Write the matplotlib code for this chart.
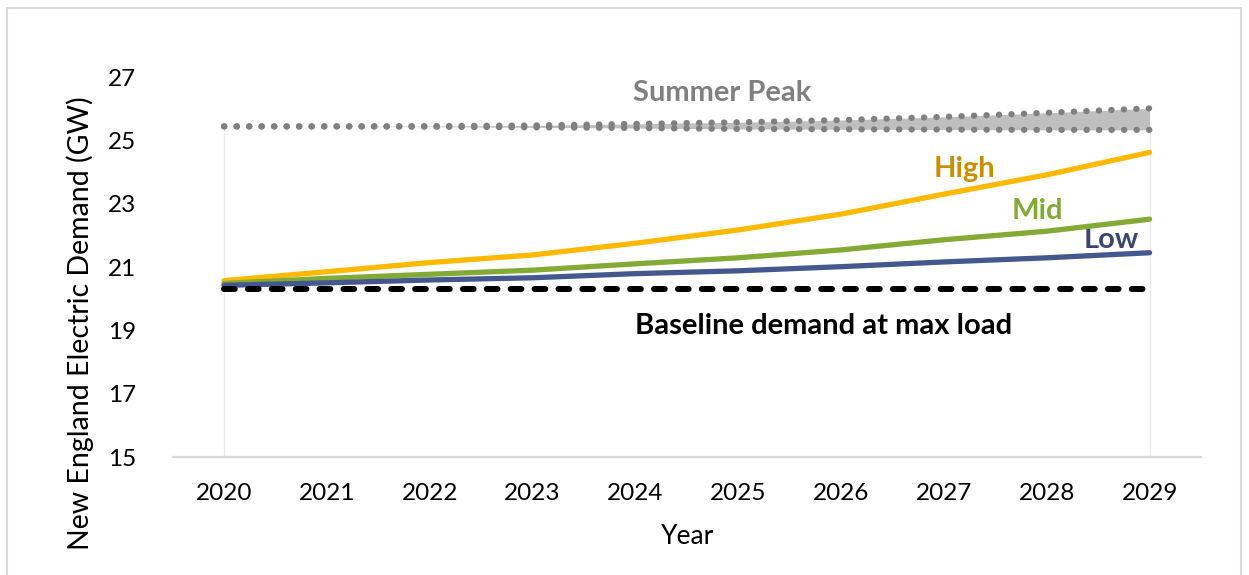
import matplotlib
matplotlib.use("Agg")
import matplotlib.pyplot as plt
from matplotlib.patches import Rectangle

years = [2020, 2021, 2022, 2023, 2024, 2025, 2026, 2027, 2028, 2029]
high = [20.57, 20.85, 21.14, 21.38, 21.75, 22.17, 22.67, 23.30, 23.91, 24.62]
mid = [20.48, 20.64, 20.77, 20.90, 21.10, 21.29, 21.54, 21.86, 22.13, 22.51]
low = [20.42, 20.50, 20.59, 20.66, 20.79, 20.88, 21.01, 21.16, 21.29, 21.45]
baseline = [20.30] * 10
summer_upper = [25.44, 25.44, 25.45, 25.47, 25.52, 25.57, 25.64, 25.74, 25.87, 26.01]
summer_lower = [25.44, 25.44, 25.43, 25.41, 25.39, 25.36, 25.35, 25.34, 25.33, 25.33]
y_ticks = [15, 17, 19, 21, 23, 25, 27]

plt.rcParams['font.family'] = ['Lato', 'DejaVu Sans']

W, H = 1249, 575
fig = plt.figure(figsize=(W / 100, H / 100), dpi=100)
ax = fig.add_axes([172.6 / W, (H - 457) / H, (1201 - 172.6) / W, (457 - 77) / H])

x = list(range(len(years)))

# Summer peak band
ax.fill_between(x, summer_lower, summer_upper, color='#bfbfbf', linewidth=0, zorder=1)
dot_style = dict(color='#808080', linewidth=4.5, linestyle=(0, (0.05, 1.95)),
                 dash_capstyle='round', zorder=3)
ax.plot(x, summer_lower, **dot_style)
ax.plot(x, summer_upper, **dot_style)

# vertical light lines at ends
for xi in (x[0], x[-1]):
    ax.plot([xi, xi], [15, summer_lower[xi]], color='#ebebeb', linewidth=1, zorder=0)

# Scenario lines
ax.plot(x, high, color='#FFB900', linewidth=3.8, solid_capstyle='round', zorder=4)
ax.plot(x, mid, color='#84AA36', linewidth=3.8, solid_capstyle='round', zorder=4)
ax.plot(x, low, color='#45588E', linewidth=3.8, solid_capstyle='round', zorder=4)
ax.plot(x, baseline, color='black', linewidth=4.3, linestyle=(0, (1.8, 2.2)),
        dash_capstyle='round', zorder=5)

ax.set_xlim(-0.5, len(years) - 0.5)
ax.set_ylim(15, 27)
ax.set_yticks(y_ticks)
ax.set_yticklabels([str(v) for v in y_ticks])
ax.set_xticks(x)
ax.set_xticklabels([str(y) for y in years])
ax.tick_params(axis='both', length=0, labelsize=17.5, labelcolor='black')
ax.tick_params(axis='y', pad=26)
ax.tick_params(axis='x', pad=19)

for s in ('top', 'right', 'left'):
    ax.spines[s].set_visible(False)
ax.spines['bottom'].set_color('#d9d9d9')
ax.spines['bottom'].set_linewidth(1.6)

ax.set_xlabel('Year', fontsize=19)
ax.xaxis.set_label_coords((688 - 172.6) / (1201 - 172.6), -(536 - 457) / 380, transform=ax.transAxes)
ax.xaxis.label.set_va('center')
ax.set_ylabel('New England Electric Demand (GW)', fontsize=20.5)
ax.yaxis.set_label_coords(-(172.6 - 80) / (1201 - 172.6), (457 - 323) / 380)
ax.yaxis.label.set_va('center')

# Annotations
lab = dict(fontsize=21, fontweight='bold', ha='center', va='center')
ax.text(4.84, 26.49, 'Summer Peak', color='#808080', **lab)
ax.text(7.20, 24.10, 'High', color='#C98F00', **lab)
ax.text(7.91, 22.76, 'Mid', color='#84AA36', **lab)
ax.text(8.63, 21.84, 'Low', color='#3A4672', **lab)
ax.text(5.83, 19.14, 'Baseline demand at max load', color='black', **lab)

# figure border
fig.patches.append(Rectangle((7 / W, -0.01), (1241 - 7) / W, (H - 8) / H + 0.01,
                             transform=fig.transFigure, fill=False,
                             edgecolor='#d9d9d9', linewidth=1.5))

fig.savefig('out.png', dpi=100)
